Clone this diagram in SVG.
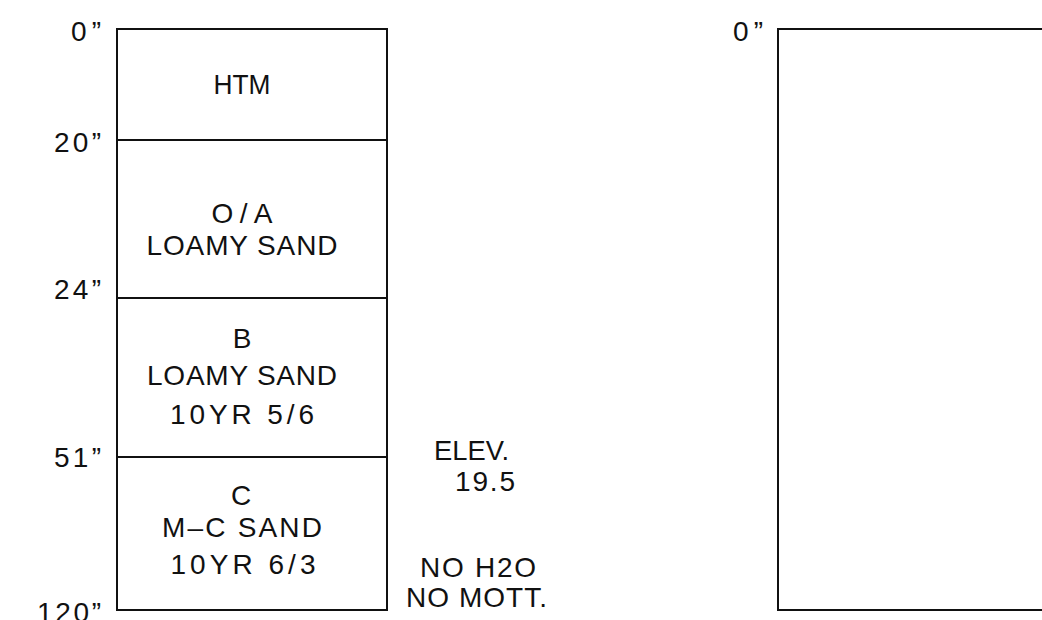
<svg xmlns="http://www.w3.org/2000/svg" width="1042" height="620" viewBox="0 0 1042 620">
<style>
.t{font-family:"Liberation Sans",Arial,sans-serif;font-size:28px;fill:#111;}
.c{text-anchor:middle;}
.r{text-anchor:end;}
.box{fill:none;stroke:#111;stroke-width:2;}
</style>
<rect x="0" y="0" width="1042" height="620" fill="#fff"/>
<g id="depth-labels">
<text class="t r" x="101" y="41" textLength="30" lengthAdjust="spacing">0”</text>
<text class="t r" x="101" y="152" textLength="47" lengthAdjust="spacing">20”</text>
<text class="t r" x="101" y="299" textLength="47" lengthAdjust="spacing">24”</text>
<text class="t r" x="101" y="467" textLength="47" lengthAdjust="spacing">51”</text>
<text class="t r" x="101" y="622" textLength="64" lengthAdjust="spacing">120”</text>
</g>
<g id="log-left">
<rect class="box" x="117" y="29" width="270" height="581"/>
</g>
<g id="connectors">
<line class="box" x1="117" y1="140" x2="387" y2="140"/>
<line class="box" x1="117" y1="298" x2="387" y2="298"/>
<line class="box" x1="117" y1="457" x2="387" y2="457"/>
</g>
<g id="layer-htm">
<text class="t c" x="242" y="94" textLength="57" lengthAdjust="spacingAndGlyphs">HTM</text>
</g>
<g id="layer-oa">
<text class="t c" x="242" y="223" textLength="61" lengthAdjust="spacing">O/A</text>
<text class="t c" x="242" y="255" textLength="191" lengthAdjust="spacing">LOAMY SAND</text>
</g>
<g id="layer-b">
<text class="t c" x="242" y="348">B</text>
<text class="t c" x="242" y="385" textLength="190" lengthAdjust="spacing">LOAMY SAND</text>
<text class="t c" x="242" y="424" textLength="144" lengthAdjust="spacing">10YR 5/6</text>
</g>
<g id="layer-c">
<text class="t c" x="241" y="505">C</text>
<text class="t c" x="242" y="537" textLength="160" lengthAdjust="spacing">M–C SAND</text>
<text class="t c" x="243" y="574" textLength="145" lengthAdjust="spacing">10YR 6/3</text>
</g>
<g id="notes">
<text class="t" x="434" y="460" textLength="75" lengthAdjust="spacingAndGlyphs">ELEV.</text>
<text class="t" x="455" y="491" textLength="60" lengthAdjust="spacing">19.5</text>
<text class="t" x="420" y="577" textLength="116" lengthAdjust="spacing">NO H2O</text>
<text class="t" x="406" y="607" textLength="141" lengthAdjust="spacing">NO MOTT.</text>
</g>
<g id="log-right">
<text class="t r" x="763" y="41" textLength="30" lengthAdjust="spacing">0”</text>
<path class="box" d="M1050 29 H778 V610 H1050"/>
</g>
</svg>
